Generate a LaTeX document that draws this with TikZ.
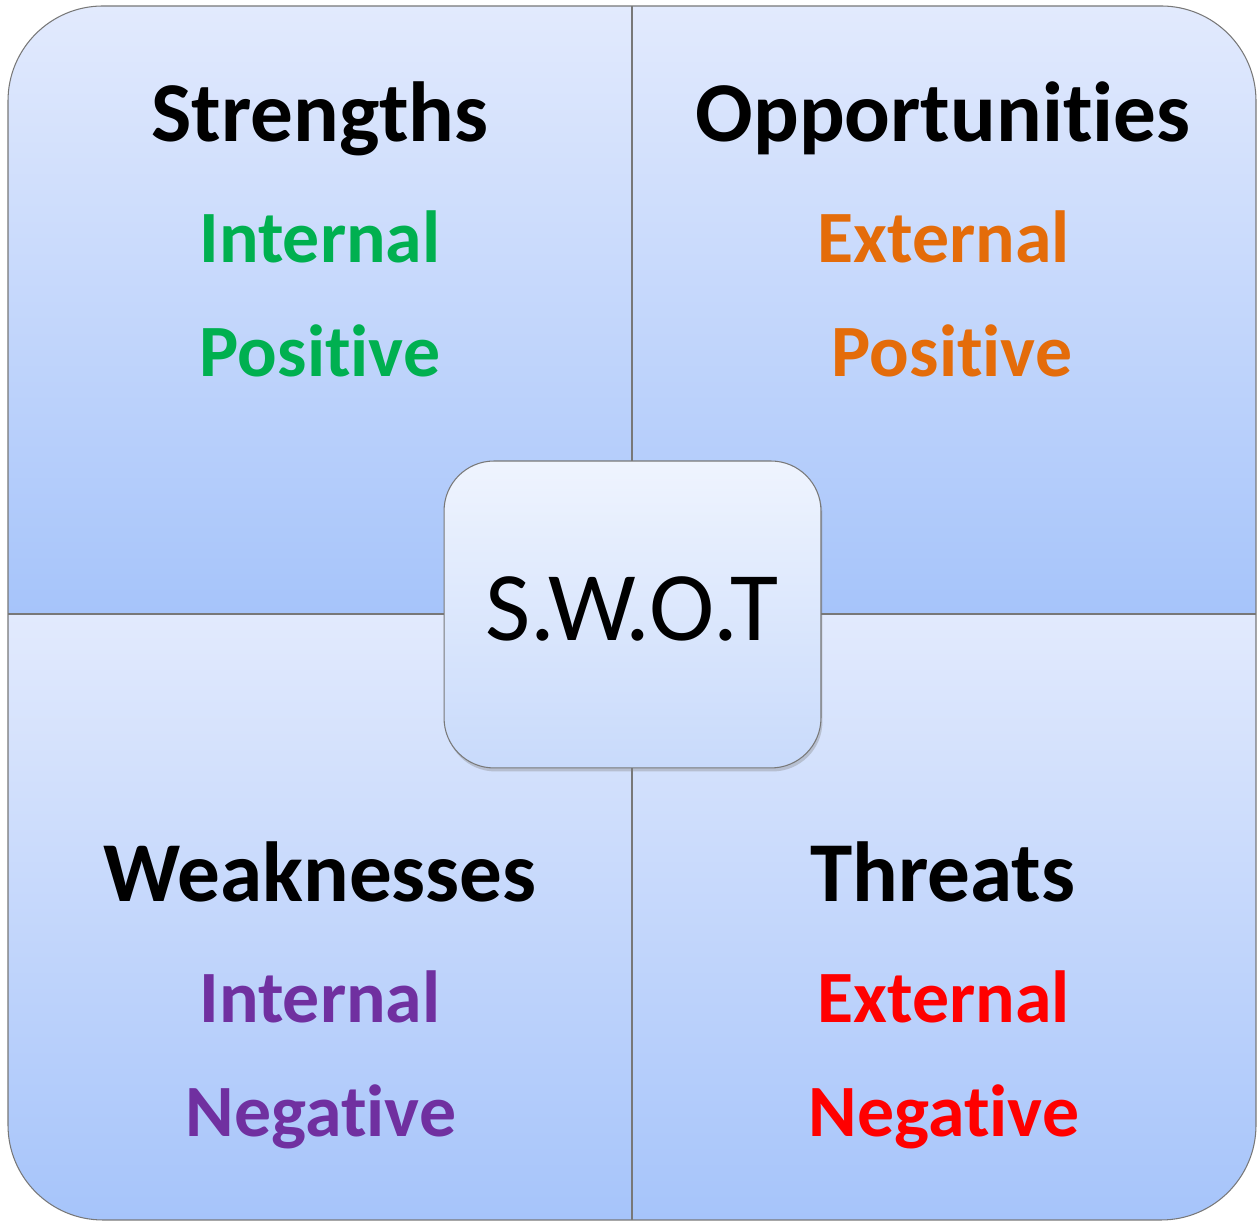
\documentclass[tikz,border=0pt]{standalone}
\usepackage{fontspec}
\setmainfont{Carlito}[Ligatures=NoCommon]
\usetikzlibrary{shadows}
\definecolor{quadtop}{RGB}{226,234,253}
\definecolor{quadbot}{RGB}{166,196,250}
\definecolor{boxtop}{RGB}{239,244,254}
\definecolor{boxbot}{RGB}{200,218,251}
\definecolor{edgegray}{RGB}{120,120,120}
\definecolor{swgreen}{RGB}{0,176,80}
\definecolor{sworange}{RGB}{228,108,10}
\definecolor{swpurple}{RGB}{112,48,160}
\definecolor{swred}{RGB}{255,0,0}
\tikzset{
  title/.style={anchor=base, inner sep=0pt, font=\bfseries\fontsize{48.5}{58}\selectfont},
  tag/.style={anchor=base, inner sep=0pt, font=\bfseries\fontsize{42}{50}\selectfont},
}
\begin{document}
\begin{tikzpicture}[x=0.02cm, y=0.02cm]
			%%%%% START %%%%%
			\useasboundingbox (0, 0) rectangle (1257, 1222);
			
			\begin{scope}
			\clip[rounded corners=1.9cm] (8, 2) rectangle (1256, 1216);
			\shade[top color=quadtop, bottom color=quadbot] (8, 608) rectangle (632, 1216);
			\shade[top color=quadtop, bottom color=quadbot] (632, 608) rectangle (1256, 1216);
			\shade[top color=quadtop, bottom color=quadbot] (8, 2) rectangle (632, 608);
			\shade[top color=quadtop, bottom color=quadbot] (632, 2) rectangle (1256, 608);
			\end{scope}
			
			\draw[edgegray, line width=0.6pt] (632, 2) -- (632, 1216);
			\draw[edgegray, line width=0.6pt] (8, 608) -- (1256, 608);
			\draw[edgegray, line width=0.6pt, rounded corners=1.9cm] (8, 2) rectangle (1256, 1216);
			
			\node[draw=edgegray, line width=0.6pt, rounded corners=1cm, minimum width=7.54cm, minimum height=6.14cm,
			      top color=boxtop, bottom color=boxbot,
			      drop shadow={shadow xshift=0.03cm, shadow yshift=-0.07cm, opacity=0.35}] (swot) at (632.5, 607.5) {};
			\node[anchor=base, inner sep=0pt, font=\fontsize{56}{66}\selectfont] (swotlabel) at (632, 581) {S.W.O.T};
			
			\node[title] (str) at (320, 1080) {Strengths};
			\node[tag, swgreen] (strint) at (320, 959) {Internal};
			\node[tag, swgreen] (strpos) at (320, 845) {Positive};
			
			\node[title] (opp) at (943, 1080) {Opportunities};
			\node[tag, sworange] (oppext) at (944, 959) {External};
			\node[tag, sworange] (opppos) at (952, 845) {Positive};
			
			\node[title] (weak) at (320, 320) {Weaknesses};
			\node[tag, swpurple] (weakint) at (320, 199) {Internal};
			\node[tag, swpurple] (weakneg) at (321, 85) {Negative};
			
			\node[title] (thr) at (943, 320) {Threats};
			\node[tag, swred] (thrext) at (944, 199) {External};
			\node[tag, swred] (thrneg) at (944, 85) {Negative};
			%%%%% END %%%%%
\end{tikzpicture}
\end{document}
